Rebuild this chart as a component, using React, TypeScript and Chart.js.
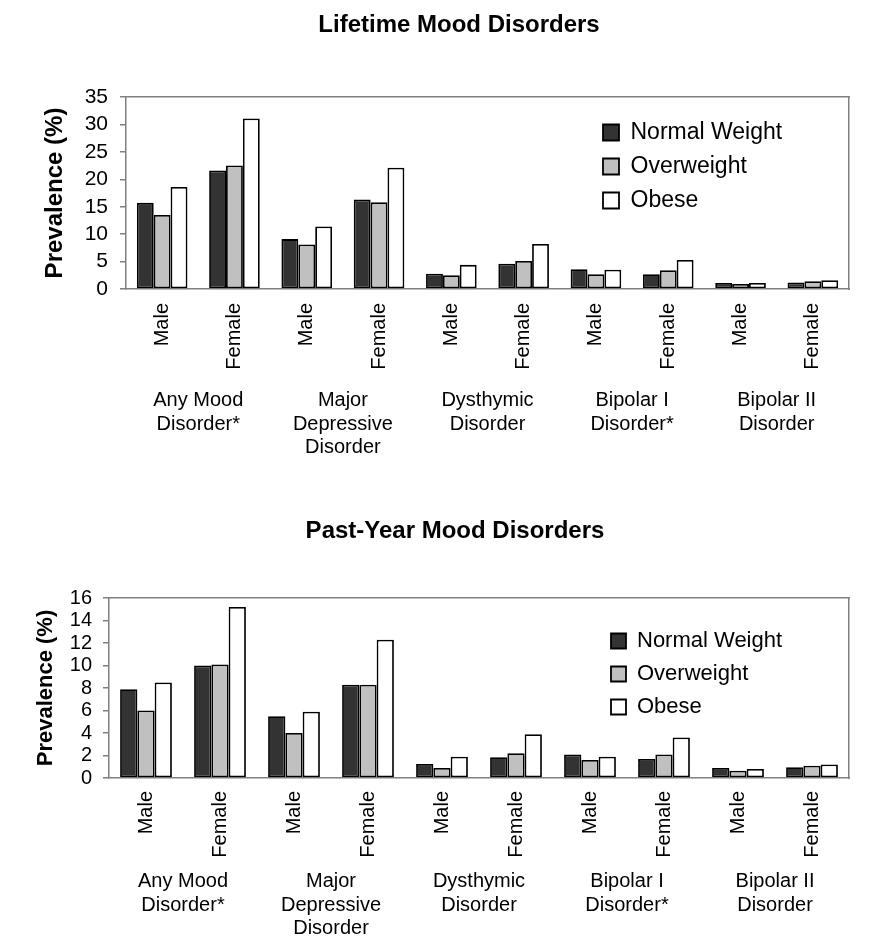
import React, { useEffect, useRef } from 'react';
import { Chart, registerables } from 'chart.js';

Chart.register(...registerables);
Chart.defaults.font.family = 'Arial, "Liberation Sans", Helvetica, sans-serif';
Chart.defaults.color = '#000';

// ---------- data ----------
const sexLabels = ['Male', 'Female', 'Male', 'Female', 'Male', 'Female', 'Male', 'Female', 'Male', 'Female'];
const groupLabels = [
  ['Any Mood', 'Disorder*'],
  ['Major', 'Depressive', 'Disorder'],
  ['Dysthymic', 'Disorder'],
  ['Bipolar I', 'Disorder*'],
  ['Bipolar II', 'Disorder'],
];
const groupCenters = [0.5, 2.5, 4.5, 6.5, 8.5];
const seriesNames = ['Normal Weight', 'Overweight', 'Obese'];

const lifetimeNormal = [15.7, 21.6, 9.1, 16.3, 2.8, 4.6, 3.6, 2.7, 1.1, 1.2];
const lifetimeOverweight = [13.5, 22.5, 8.1, 15.8, 2.5, 5.1, 2.7, 3.4, 0.9, 1.4];
const lifetimeObese = [18.6, 31.1, 11.4, 22.1, 4.4, 8.2, 3.5, 5.3, 1.1, 1.6];
const lifetimeTicks = [0, 5, 10, 15, 20, 25, 30, 35];

const pastYearNormal = [7.9, 10.0, 5.5, 8.3, 1.25, 1.85, 2.1, 1.7, 0.9, 0.95];
const pastYearOverweight = [6.0, 10.1, 4.0, 8.3, 0.9, 2.2, 1.6, 2.1, 0.65, 1.1];
const pastYearObese = [8.5, 15.2, 5.9, 12.3, 1.9, 3.9, 1.9, 3.6, 0.8, 1.2];
const pastYearTicks = [0, 2, 4, 6, 8, 10, 12, 14, 16];

// ---------- styles ----------
const barColors = ['#333333', '#c0c0c0', '#ffffff'];
const frameColor = '#808080';

const legendPlacer = {
  id: 'legendPlacer',
  afterLayout(chart: any, _args: any, opts: any) {
    const lg = chart.legend;
    if (!lg) return;
    lg.left = opts.left;
    lg.top = opts.top;
    lg.right = opts.left + lg.width;
    lg.bottom = opts.top + lg.height;
  },
};

type Spec = {
  title: string;
  series: number[][];
  yTicks: number[];
  height: number;
  padLeft: number;
  yWidth: number;
  rightWidth: number;
  titleSize: number;
  titlePadTop: number;
  titlePadBottom: number;
  yTitleSize: number;
  yTitlePad: number;
  yTickSize: number;
  yTickPad: number;
  xPad: number;
  xHeight: number;
  x2Height: number;
  sexSize: number;
  groupSize: number;
  groupLine: number;
  legendSize: number;
  legendBox: number;
  legendPad: number;
  legendLeft: number;
  legendTop: number;
};

function makeConfig(s: Spec): any {
  return {
    type: 'bar',
    data: {
      labels: sexLabels,
      datasets: seriesNames.map((name, i) => ({
        label: name,
        data: s.series[i],
        backgroundColor: barColors[i],
        borderColor: '#000',
        borderWidth: 1.8,
        borderSkipped: false,
        categoryPercentage: 0.7,
        barPercentage: 1.0,
      })),
    },
    plugins: [legendPlacer],
    options: {
      responsive: false,
      animation: false,
      devicePixelRatio: 1,
      events: [],
      layout: { padding: { left: s.padLeft, right: 0, top: 0, bottom: 0 } },
      plugins: {
        tooltip: { enabled: false },
        title: {
          display: true,
          text: s.title,
          color: '#000',
          font: { size: s.titleSize, weight: 'bold', lineHeight: 1.2 },
          padding: { top: s.titlePadTop, bottom: s.titlePadBottom },
        },
        legend: {
          display: true,
          position: 'chartArea',
          align: 'start',
          labels: {
            color: '#000',
            font: { size: s.legendSize },
            boxWidth: s.legendBox,
            boxHeight: s.legendBox,
            padding: s.legendPad,
          },
        },
        legendPlacer: { left: s.legendLeft, top: s.legendTop },
      },
      scales: {
        x: {
          type: 'category',
          position: 'bottom',
          offset: true,
          grid: { display: false, drawTicks: false },
          border: { display: true, color: frameColor, width: 1.5 },
          ticks: {
            minRotation: 90,
            maxRotation: 90,
            autoSkip: false,
            padding: s.xPad,
            color: '#000',
            font: { size: s.sexSize },
          },
          afterFit: (sc: any) => { sc.height = s.xHeight; },
        },
        x2: {
          type: 'linear',
          position: 'bottom',
          min: -0.5,
          max: 9.5,
          bounds: 'data',
          offset: false,
          grid: { display: false, drawTicks: false },
          border: { display: false },
          afterBuildTicks: (sc: any) => { sc.ticks = groupCenters.map((v) => ({ value: v })); },
          ticks: {
            autoSkip: false,
            maxRotation: 0,
            minRotation: 0,
            padding: 0,
            color: '#000',
            font: { size: s.groupSize, lineHeight: s.groupLine + 'px' },
            callback: (_v: any, i: number) => groupLabels[i],
          },
          afterFit: (sc: any) => { sc.height = s.x2Height; },
        },
        xTop: {
          type: 'linear',
          position: 'top',
          display: true,
          grid: { display: false, drawTicks: false },
          ticks: { display: false },
          border: { display: true, color: frameColor, width: 1.5 },
          afterFit: (sc: any) => { sc.height = 0; },
        },
        y: {
          type: 'linear',
          position: 'left',
          min: s.yTicks[0],
          max: s.yTicks[s.yTicks.length - 1],
          afterBuildTicks: (sc: any) => { sc.ticks = s.yTicks.map((v) => ({ value: v })); },
          grid: { display: true, drawOnChartArea: false, drawTicks: true, tickLength: 6, color: frameColor, lineWidth: 1.5 },
          border: { display: true, color: frameColor, width: 1.5 },
          ticks: { color: '#000', padding: s.yTickPad, autoSkip: false, font: { size: s.yTickSize } },
          title: {
            display: true,
            text: 'Prevalence (%)',
            color: '#000',
            font: { size: s.yTitleSize, weight: 'bold', lineHeight: 1.2 },
            padding: { top: s.yTitlePad, bottom: 0 },
          },
          afterFit: (sc: any) => { sc.width = s.yWidth; },
        },
        yRight: {
          type: 'linear',
          position: 'right',
          display: true,
          grid: { display: false, drawTicks: false },
          ticks: { display: false },
          border: { display: true, color: frameColor, width: 1.5 },
          afterFit: (sc: any) => { sc.width = s.rightWidth; },
        },
      },
    },
  };
}

function BarPanel({ spec }: { spec: Spec }) {
  const ref = useRef<HTMLCanvasElement | null>(null);
  useEffect(() => {
    if (!ref.current) return;
    const chart = new Chart(ref.current, makeConfig(spec));
    return () => chart.destroy();
  }, [spec]);
  return <canvas ref={ref} width={885} height={spec.height} style={{ display: 'block' }} />;
}

const lifetimeSpec: Spec = {
  title: 'Lifetime Mood Disorders',
  series: [lifetimeNormal, lifetimeOverweight, lifetimeObese],
  yTicks: lifetimeTicks,
  height: 475,
  padLeft: 33,
  yWidth: 93,
  rightWidth: 36,
  titleSize: 24,
  titlePadTop: 10.6,
  titlePadBottom: 57.6,
  yTitleSize: 24,
  yTitlePad: 7.6,
  yTickSize: 21,
  yTickPad: 12,
  xPad: 14,
  xHeight: 100,
  x2Height: 86,
  sexSize: 20,
  groupSize: 20,
  groupLine: 23.5,
  legendSize: 23,
  legendBox: 16,
  legendPad: 11,
  legendLeft: 592,
  legendTop: 110,
};

const pastYearSpec: Spec = {
  title: 'Past-Year Mood Disorders',
  series: [pastYearNormal, pastYearOverweight, pastYearObese],
  yTicks: pastYearTicks,
  height: 476,
  padLeft: 25,
  yWidth: 84,
  rightWidth: 36,
  titleSize: 24,
  titlePadTop: 42,
  titlePadBottom: 52.2,
  yTitleSize: 22,
  yTitlePad: 7.8,
  yTickSize: 20,
  yTickPad: 11,
  xPad: 13,
  xHeight: 92,
  x2Height: 81,
  sexSize: 20,
  groupSize: 20,
  groupLine: 23.5,
  legendSize: 22,
  legendBox: 15,
  legendPad: 11,
  legendLeft: 600,
  legendTop: 144,
};

export default function App() {
  return (
    <div style={{ position: 'absolute', left: 0, top: 0, width: 885, height: 951, background: '#fff' }}>
      <BarPanel spec={lifetimeSpec} />
      <BarPanel spec={pastYearSpec} />
    </div>
  );
}
